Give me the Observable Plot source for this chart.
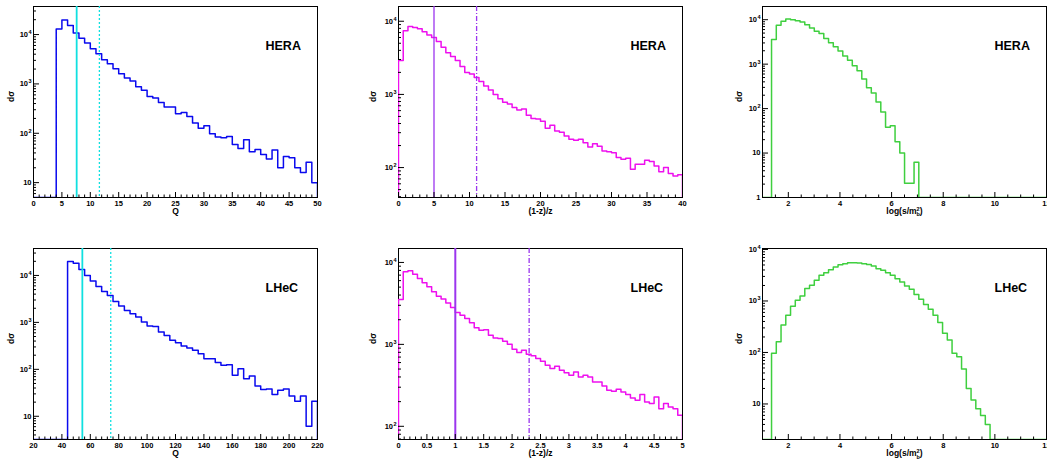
<!DOCTYPE html>
<html><head><meta charset="utf-8">
<script src="https://cdn.jsdelivr.net/npm/d3@7"></script>
<script src="https://cdn.jsdelivr.net/npm/@observablehq/plot@0.6"></script>
<style>
body{margin:0;background:#fff;}
#root{position:relative;width:1047px;height:459px;overflow:hidden;background:#fff;}
#root svg{position:absolute;overflow:visible;}
</style></head><body><div id="root"></div>
<script>
// ---------- data (bin start, bin width, bin contents) ----------
const heraQStart = 4, heraQBin = 1;
const heraQ = [13000,19800,15200,10800,8430,6780,5130,4060,3080,2550,2020,1600,1310,1140,874,748,557,516,421,339,339,248,264,219,161,127,142,98,84,81,86,59,49,74,42,47,37,30,46,20,34,32,20,16,26,10];
const heraZStart = 0, heraZBin = 40/60;
const heraZ = [2900,7400,8500,8200,7900,7200,6500,6000,5300,4400,3700,3300,2900,2400,2000,1900,1700,1500,1300,1150,1000,870,780,740,660,610,630,520,470,460,430,345,380,316,305,270,243,236,243,219,191,212,195,169,165,160,137,130,134,95,111,111,126,121,105,88,100,83,77,80];
const heraSStart = 1.35, heraSBin = 0.184;
const heraS = [3590,7490,9180,10300,10000,9500,8870,7740,6530,5510,4890,3780,3030,2470,1980,1530,1230,920,710,465,293,223,141,84,38,41,18,10,2.1,2.1,6.2];
const lhecQStart = 44, lhecQBin = 4;
const lhecQ = [19900,18300,13400,10000,7580,5830,4570,3750,2800,2230,1800,1530,1300,1020,835,820,622,528,414,370,313,284,254,216,169,169,139,122,125,75,103,63,72,44,37,38,29,36,38,27,21,27,6.1,21];
const lhecZStart = 0, lhecZBin = 5/60;
const lhecZ = [3530,7690,7910,7200,6370,5640,5040,4380,3880,3570,3190,2820,2450,2270,2070,1830,1590,1490,1510,1290,1200,1180,1090,1000,874,795,850,759,725,671,622,556,507,540,483,452,420,460,401,420,401,348,348,311,276,267,283,263,244,222,208,244,198,190,228,164,190,172,164,136];
const lhecSStart = 1.35, lhecSBin = 0.184;
const lhecS = [97,162,340,531,793,1035,1256,1740,2020,2520,3150,3540,4050,4560,5060,5290,5530,5530,5450,5290,5120,4770,4240,3930,3540,3150,2710,2340,1960,1690,1330,1080,853,693,531,383,235,175,97,83,48,20,12,8.1,6.0,4.0];

// vertical marker positions
const heraQCuts = [7.6, 11.6];
const heraZCuts = [5, 11];
const lhecQCuts = [54.4, 74.4];
const lhecZCuts = [1.0, 2.3];

// tick labels
const ticksQHera = [0,5,10,15,20,25,30,35,40,45,50];
const ticksZHera = [0,5,10,15,20,25,30,35,40];
const ticksS = [2,4,6,8,10,12];
const ticksQLhec = [20,40,60,80,100,120,140,160,180,200,220];
const ticksZLhec = [0,0.5,1,1.5,2,2.5,3,3.5,4,4.5,5];
const yTicksTL = [10,100,1000,10000];
const yTicksTM = [100,1000,10000];
const yTicksTR = [1,10,100,1000,10000];
const yTicksBL = [10,100,1000,10000];
const yTicksBM = [100,1000,10000];
const yTicksBR = [10,100,1000,10000];

const tags = ["HERA", "LHeC"];
const xTitles = ["Q", "(1-z)/z", "log(s/m2b)"];
const yTitle = "dσ";

// ---------- drawing ----------
const root = document.getElementById("root");
const FONT = "'Liberation Sans', Arial, Helvetica, sans-serif";
const colLeft = [0, 365, 729];
const rowTop = [0, 242];
const NS = "http://www.w3.org/2000/svg";

function powLabel(v) {
  const e = Math.round(Math.log10(v));
  if (e === 0) return "1";
  if (e === 1) return "10";
  return "10^" + e;
}

function tspan(txt, attrs) {
  const sp = document.createElementNS(NS, "tspan");
  for (const k in attrs) sp.setAttribute(k, attrs[k]);
  sp.textContent = txt;
  return sp;
}

function panel(s) {
  const fw = 284, fh = 191, mL = 33, mR = 1, mT = 6;
  const mB = s.row === 0 ? 24 : 20;
  const W = mL + fw + mR, H = mT + fh + mB;
  const [y0, y1] = s.yDomain;
  const pts = [{x: s.xDomain[0], y: y0}];
  s.values.forEach((v, i) => pts.push({x: s.start + i * s.bin, y: Math.max(v, y0)}));
  pts.push({x: s.start + s.values.length * s.bin, y: y0});
  pts.push({x: s.xDomain[1], y: y0});
  const yMinor = [];
  for (let e = -1; e <= 5; e++) for (let m = 2; m <= 9; m++) {
    const v = m * Math.pow(10, e);
    if (v > y0 && v < y1) yMinor.push(v);
  }
  const xMinor = d3.range(s.xDomain[0], s.xDomain[1] + 1e-9, s.minorStep)
    .filter(v => !s.xTicks.some(t => Math.abs(t - v) < 1e-6));
  const marks = [
    Plot.frame({stroke: "black", strokeWidth: 1}),
    Plot.line(pts, {x: "x", y: "y", curve: "step-after", stroke: s.color, strokeWidth: 1.5, clip: true})
  ];
  if (s.cuts) {
    marks.push(Plot.ruleX([s.cuts[0]], {stroke: s.cutColor, strokeWidth: s.cutWidth || 1.6}));
    marks.push(Plot.ruleX([s.cuts[1]], {stroke: s.cutColor, strokeWidth: 1.3, strokeDasharray: s.dash}));
  }
  marks.push(
    Plot.ruleX(s.xTicks, {insetTop: fh - 5, stroke: "black"}),
    Plot.ruleX(xMinor, {insetTop: fh - 2.5, stroke: "black"}),
    Plot.ruleY(s.yTicks, {insetRight: fw - 6, stroke: "black"}),
    Plot.ruleY(yMinor, {insetRight: fw - 3, stroke: "black"}),
    Plot.axisX({ticks: s.xTicks, tickSize: 0, tickPadding: 3, label: null, tickFormat: d => String(d), fontSize: 7.5}),
    Plot.axisY({ticks: s.yTicks, tickSize: 0, tickPadding: 2, label: null, tickFormat: powLabel, fontSize: 7.5}),
    Plot.text([s.xTitle], {text: d => d, frameAnchor: "bottom", dy: s.row === 0 ? 16 : 16.5, fontSize: 8.5, fontWeight: "bold"}),
    Plot.text([yTitle], {text: d => d, frameAnchor: "left", dx: s.yTitleDx, rotate: -90, fontSize: 8.5, fontWeight: "bold"}),
    Plot.text([s.tag], {text: d => d, frameAnchor: "top-left", dx: 232, dy: 35, fontSize: 12.5, fontWeight: "bold"})
  );
  const svg = Plot.plot({
    width: W, height: H,
    marginLeft: mL, marginRight: mR, marginTop: mT, marginBottom: mB,
    x: {domain: s.xDomain},
    y: {type: "log", domain: s.yDomain},
    style: {fontFamily: FONT, fontSize: "7.5px", fontWeight: "bold", color: "black", background: "transparent", overflow: "visible"},
    marks
  });
  svg.style.left = colLeft[s.col] + "px";
  svg.style.top = rowTop[s.row] + "px";
  // ROOT-style exponents and sub/superscripts
  svg.querySelectorAll("text").forEach(t => {
    const txt = t.textContent;
    if (/^10\^\d+$/.test(txt)) {
      const e = txt.split("^")[1];
      t.textContent = "10";
      t.appendChild(tspan(e, {dx: "0.4", dy: "-3", "font-size": "5.5"}));
    } else if (txt === "log(s/m2b)") {
      t.textContent = "log(s/m";
      t.appendChild(tspan("2", {dy: "-3", "font-size": "5.5"}));
      t.appendChild(tspan("b", {dx: "-3.2", dy: "5.5", "font-size": "5.5"}));
      t.appendChild(tspan(")", {dy: "-2.5"}));
    }
  });
  root.appendChild(svg);
}

const BLUE = "#0a0aee", MAG = "#ee10ee", GREEN = "#3fcf3f", CYAN = "#10e0e0", VIOLET = "#9b35ee";

panel({row: 0, col: 0, xDomain: [0, 50], yDomain: [5, 37000], start: heraQStart, bin: heraQBin, values: heraQ,
  color: BLUE, xTicks: ticksQHera, minorStep: 1, yTicks: yTicksTL, xTitle: xTitles[0], yTitleDx: -22, tag: tags[0],
  cuts: heraQCuts, cutColor: CYAN, cutWidth: 1.8, dash: "2,2"});
panel({row: 0, col: 1, xDomain: [0, 40], yDomain: [39, 15900], start: heraZStart, bin: heraZBin, values: heraZ,
  color: MAG, xTicks: ticksZHera, minorStep: 1, yTicks: yTicksTM, xTitle: xTitles[1], yTitleDx: -25, tag: tags[0],
  cuts: heraZCuts, cutColor: VIOLET, cutWidth: 1.3, dash: "5,2,1,2"});
panel({row: 0, col: 2, xDomain: [1, 12], yDomain: [1, 19800], start: heraSStart, bin: heraSBin, values: heraS,
  color: GREEN, xTicks: ticksS, minorStep: 0.5, yTicks: yTicksTR, xTitle: xTitles[2], yTitleDx: -23, tag: tags[0]});
panel({row: 1, col: 0, xDomain: [20, 220], yDomain: [3.2, 37500], start: lhecQStart, bin: lhecQBin, values: lhecQ,
  color: BLUE, xTicks: ticksQLhec, minorStep: 4, yTicks: yTicksBL, xTitle: xTitles[0], yTitleDx: -22, tag: tags[1],
  cuts: lhecQCuts, cutColor: CYAN, cutWidth: 1.8, dash: "2,2"});
panel({row: 1, col: 1, xDomain: [0, 5], yDomain: [69, 14800], start: lhecZStart, bin: lhecZBin, values: lhecZ,
  color: MAG, xTicks: ticksZLhec, minorStep: 0.1, yTicks: yTicksBM, xTitle: xTitles[1], yTitleDx: -25, tag: tags[1],
  cuts: lhecZCuts, cutColor: VIOLET, cutWidth: 2, dash: "5,2,1,2"});
panel({row: 1, col: 2, xDomain: [1, 12], yDomain: [2.04, 10450], start: lhecSStart, bin: lhecSBin, values: lhecS,
  color: GREEN, xTicks: ticksS, minorStep: 0.5, yTicks: yTicksBR, xTitle: xTitles[2], yTitleDx: -23, tag: tags[1]});
</script>
</body></html>
